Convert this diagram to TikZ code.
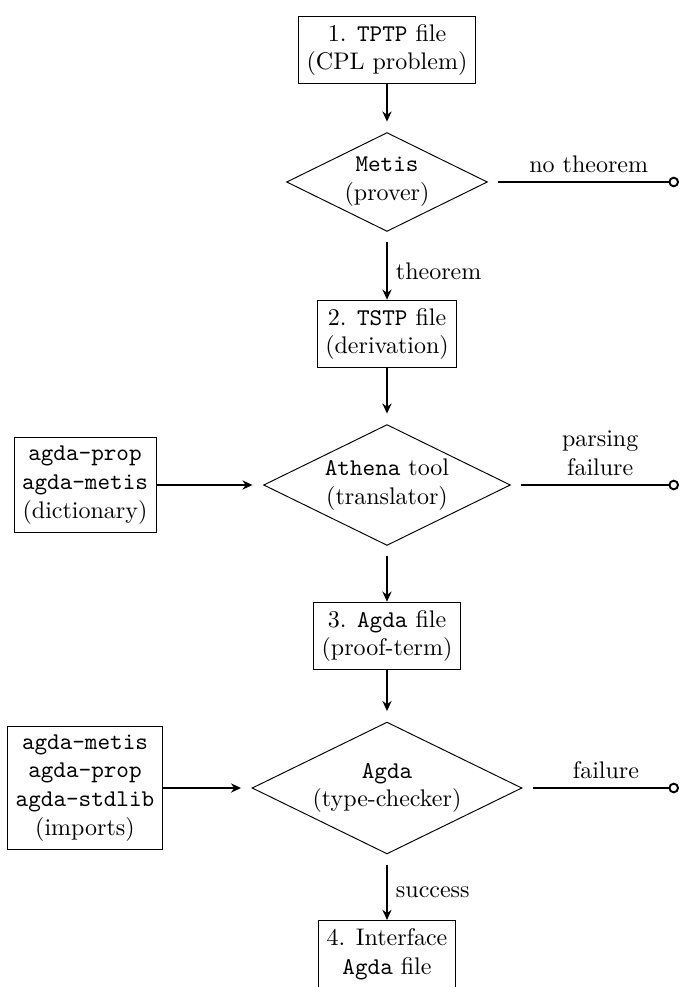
\documentclass[tikz,border=0pt]{standalone}
\usetikzlibrary{shapes.geometric,arrows.meta}
\newdimen\pxu \pxu=0.41667pt
\begin{document}
\begin{tikzpicture}[x=0.41667pt,y=-0.41667pt,
  box/.style={draw,thin,align=center,inner sep=0.3333em},
  dia/.style={draw,thin,shape=diamond,aspect=2,align=center,inner sep=0pt,outer sep=3.3pt},
  arr/.style={thick,-{Stealth[length=4.2pt,width=3.8pt]}},
  fail/.style={thick,-{Circle[open,length=4.4pt,width=4.4pt]}}]
\useasboundingbox (0,0) rectangle (680,987);
\node[box] (b1) at (387,50) {1. \texttt{TPTP} file\\(CPL problem)};
\node[dia,minimum width=207\pxu,minimum height=105\pxu] (metis) at (387,182) {\texttt{Metis}\\(prover)};
\node[box] (b2) at (387,334) {2. \texttt{TSTP} file\\(derivation)};
\node[dia,minimum width=253\pxu,minimum height=127\pxu] (athena) at (387,485) {\texttt{Athena} tool\\(translator)};
\node[box] (dict) at (85,485) {\texttt{agda-prop}\\\texttt{agda-metis}\\(dictionary)};
\node[box] (b3) at (387,636) {3. \texttt{Agda} file\\(proof-term)};
\node[dia,minimum width=276\pxu,minimum height=138\pxu] (agda) at (387,788) {\texttt{Agda}\\(type-checker)};
\node[box] (imp) at (85,788) {\texttt{agda-metis}\\\texttt{agda-prop}\\\texttt{agda-stdlib}\\(imports)};
\node[box] (b4) at (387,954) {4. Interface\\\texttt{Agda} file};
\coordinate (e1) at (679,182);
\coordinate (e2) at (679,485);
\coordinate (e3) at (679,788);
\draw[arr] (b1) -- (metis);
\draw[arr] (metis) -- node[right] {theorem} (b2);
\draw[fail] (metis.east) -- node[above] {no theorem} (e1);
\draw[arr] (b2) -- (athena);
\draw[arr] (dict) -- (athena);
\draw[fail] (athena.east) -- node[above,align=center] {parsing\\failure} (e2);
\draw[arr] (athena) -- (b3);
\draw[arr] (b3) -- (agda);
\draw[arr] (imp) -- (agda);
\draw[fail] (agda.east) -- node[above] {failure} (e3);
\draw[arr] (agda) -- node[right] {success} (b4);
\end{tikzpicture}
\end{document}
